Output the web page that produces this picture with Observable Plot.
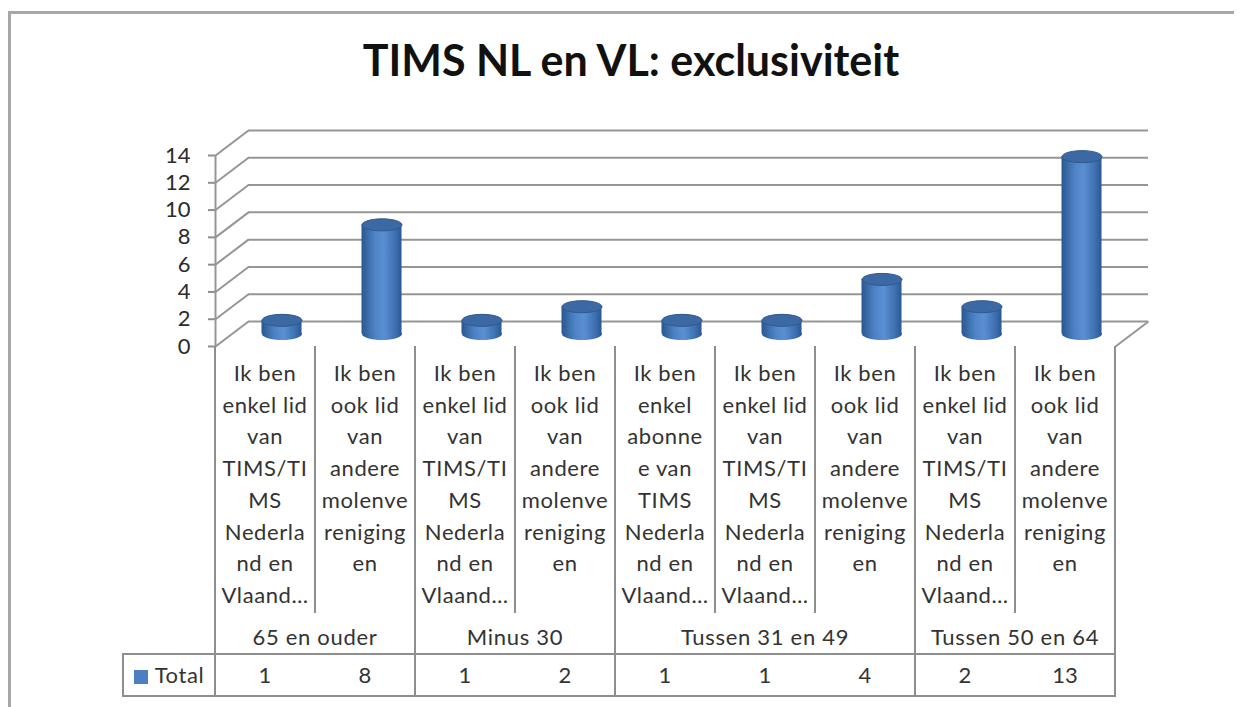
<!DOCTYPE html>
<html><head><meta charset="utf-8">
<script src="https://cdn.jsdelivr.net/npm/d3@7"></script>
<script src="https://cdn.jsdelivr.net/npm/@observablehq/plot@0.6"></script>
<style>
html,body{margin:0;padding:0;background:#fff;overflow:hidden;}
body{font-family:Lato,"Open Sans",sans-serif;color:#2b2b2b;width:1241px;height:707px;position:relative;}
#frame{position:absolute;left:8px;top:11px;width:1226px;height:696px;border-top:3px solid #a8a8a8;border-left:3px solid #a8a8a8;box-sizing:border-box;}
#title{position:absolute;left:21px;width:1220px;top:35px;text-align:center;font-weight:bold;font-size:43px;line-height:50px;color:#111;white-space:nowrap;}
#chart{position:absolute;left:0;top:0;width:1241px;height:352px;}
.ln{position:absolute;background:#8e8e8e;}
.cat{position:absolute;text-align:center;font-size:22px;letter-spacing:0.6px;line-height:31.7px;color:#333;white-space:nowrap;}
.grp{position:absolute;text-align:center;font-size:22px;letter-spacing:0.7px;color:#333;white-space:nowrap;}
.val{position:absolute;text-align:center;font-size:22px;color:#333;}
#chart svg [aria-label="y-axis"] line,#chart svg [aria-label="y-axis tick"] path{stroke:#8e8e8e;stroke-width:2px;}
</style></head><body>
<div id="frame"></div>
<div id="title">TIMS NL en VL: exclusiviteit</div>
<div id="chart"></div>
<div id="table"></div>
<script>
// ---- data ----
const groups = ["65 en ouder", "Minus 30", "Tussen 31 en 49", "Tussen 50 en 64"];
const groupSizes = [2, 2, 3, 2];
const categories = [
  "Ik ben\nenkel lid\nvan\nTIMS/TI\nMS\nNederla\nnd en\nVlaand…",
  "Ik ben\nook lid\nvan\nandere\nmolenve\nreniging\nen",
  "Ik ben\nenkel lid\nvan\nTIMS/TI\nMS\nNederla\nnd en\nVlaand…",
  "Ik ben\nook lid\nvan\nandere\nmolenve\nreniging\nen",
  "Ik ben\nenkel\nabonne\ne van\nTIMS\nNederla\nnd en\nVlaand…",
  "Ik ben\nenkel lid\nvan\nTIMS/TI\nMS\nNederla\nnd en\nVlaand…",
  "Ik ben\nook lid\nvan\nandere\nmolenve\nreniging\nen",
  "Ik ben\nenkel lid\nvan\nTIMS/TI\nMS\nNederla\nnd en\nVlaand…",
  "Ik ben\nook lid\nvan\nandere\nmolenve\nreniging\nen"
];
const values = [1, 8, 1, 2, 1, 1, 4, 2, 13];
const seriesName = "Total";
const yTicks = [0, 2, 4, 6, 8, 10, 12, 14];

// ---- layout ----
const W = 1241, H = 352;
const left = 215, right = 1115, floorY = 346, topY = 155;
const depthX = 33, depthY = 25;
const cylR = 20;
const n = values.length;
const colW = (right - left) / n;
const pxPerY = (floorY - topY) / (yTicks[yTicks.length - 1] - yTicks[0]);
const backX = depthX / colW, backY = depthY / pxPerY;
const data = values.map((v, i) => ({i, v, cat: categories[i]}));

const ellipse = {
  draw(ctx, size) {
    const rx = Math.sqrt(size / Math.PI), ry = rx * 0.3, kx = rx * 0.5523, ky = ry * 0.5523;
    ctx.moveTo(-rx, 0);
    ctx.bezierCurveTo(-rx, -ky, -kx, -ry, 0, -ry);
    ctx.bezierCurveTo(kx, -ry, rx, -ky, rx, 0);
    ctx.bezierCurveTo(rx, ky, kx, ry, 0, ry);
    ctx.bezierCurveTo(-kx, ry, -rx, ky, -rx, 0);
    ctx.closePath();
  }
};
const grid = {stroke: "#969696", strokeWidth: 2};
const half = cylR / colW;

const chart = Plot.plot({
  width: W, height: H,
  marginLeft: left, marginRight: W - right, marginTop: topY, marginBottom: H - floorY,
  style: {fontSize: "22px", fontFamily: "Lato, 'Open Sans', sans-serif", color: "#2b2b2b", background: "transparent", overflow: "visible"},
  x: {domain: [0, n], axis: null},
  y: {domain: [yTicks[0], yTicks[yTicks.length - 1]], ticks: yTicks, tickSize: 7, tickPadding: 18, label: null},
  marks: [
    Plot.ruleY(yTicks, {y: d => d, x1: 0, x2: n, dx: depthX, dy: -depthY, ...grid}),
    Plot.link(yTicks, {x1: 0, y1: d => d, x2: backX, y2: d => d + backY, ...grid}),
    Plot.link([yTicks[0]], {x1: n, y1: d => d, x2: n + backX, y2: d => d + backY, ...grid}),
    Plot.ruleX([0], {y1: yTicks[0], y2: yTicks[yTicks.length - 1], ...grid}),
    Plot.dot(data, {x: d => d.i + 0.5, y: yTicks[0], r: cylR, symbol: ellipse, fill: "url(#cylGrad)", dx: depthX / 2, dy: -depthY / 2}),
    Plot.rect(data, {x1: d => d.i + 0.5 - half, x2: d => d.i + 0.5 + half, y1: yTicks[0], y2: "v", fill: "url(#cylGrad)", dx: depthX / 2, dy: -depthY / 2}),
    Plot.dot(data, {x: d => d.i + 0.5, y: "v", r: cylR, symbol: ellipse, fill: "#3c69a3", stroke: "#2f5a90", strokeWidth: 1, dx: depthX / 2, dy: -depthY / 2})
  ]
});
const defs = d3.select(chart).insert("defs", ":first-child");
const g = defs.append("linearGradient").attr("id", "cylGrad").attr("x1", 0).attr("x2", 1).attr("y1", 0).attr("y2", 0);
[[0, "#2a5890"], [0.35, "#4f85c8"], [0.55, "#5a90d3"], [0.85, "#3d6eb0"], [1, "#2a5890"]].forEach(([o, c]) =>
  g.append("stop").attr("offset", o).attr("stop-color", c));
document.getElementById("chart").appendChild(chart);

// ---- data table below the chart, aligned to Plot's x scale ----
const xs = chart.scale("x");
const px = v => xs.apply(v);
const tbl = document.getElementById("table");
const innerBottom = 613, grpBottom = 654, tblBottom = 696, legendLeft = 123, lw = 2;
function line(x, y, w, h) { const d = document.createElement("div"); d.className = "ln"; Object.assign(d.style, {left: x + "px", top: y + "px", width: w + "px", height: h + "px"}); tbl.appendChild(d); }
function cell(cls, x, y, w, h, text) { const d = document.createElement("div"); d.className = cls; Object.assign(d.style, {left: x + "px", top: y + "px", width: w + "px", height: h + "px"}); d.textContent = text; tbl.appendChild(d); return d; }
const bounds = [0]; groupSizes.reduce((a, s) => { bounds.push(a + s); return a + s; }, 0);
for (let i = 0; i <= n; i++) {
  const full = bounds.includes(i);
  line(px(i) - lw / 2, floorY, lw, (full ? tblBottom : innerBottom) - floorY);
}
categories.forEach((c, i) => {
  const d = cell("cat", px(i), floorY + 11, px(i + 1) - px(i), innerBottom - floorY - 11, "");
  d.innerHTML = c.split("\n").map(s => s.replace(/&/g, "&amp;").replace(/</g, "&lt;")).join("<br>");
});
groups.forEach((gname, k) => {
  const d = cell("grp", px(bounds[k]), innerBottom, px(bounds[k + 1]) - px(bounds[k]), grpBottom - innerBottom, gname);
  d.style.lineHeight = (grpBottom - innerBottom + 6) + "px";
});
line(legendLeft, grpBottom - lw / 2, px(n) - legendLeft, lw);
line(legendLeft, tblBottom - lw / 2, px(n) - legendLeft + lw / 2, lw);
line(legendLeft - lw / 2, grpBottom - lw / 2, lw, tblBottom - grpBottom + lw);
values.forEach((v, i) => {
  const d = cell("val", px(i), grpBottom, px(i + 1) - px(i), tblBottom - grpBottom, String(v));
  d.style.lineHeight = (tblBottom - grpBottom) + "px";
});
const leg = cell("val", legendLeft, grpBottom, px(0) - legendLeft, tblBottom - grpBottom, "");
leg.style.lineHeight = (tblBottom - grpBottom) + "px";
leg.style.letterSpacing = "0.6px";
leg.innerHTML = '<span style="display:inline-block;width:14px;height:14px;background:#4a7fc1;margin-right:7px;vertical-align:-1px"></span>' + seriesName;
</script>
</body></html>
